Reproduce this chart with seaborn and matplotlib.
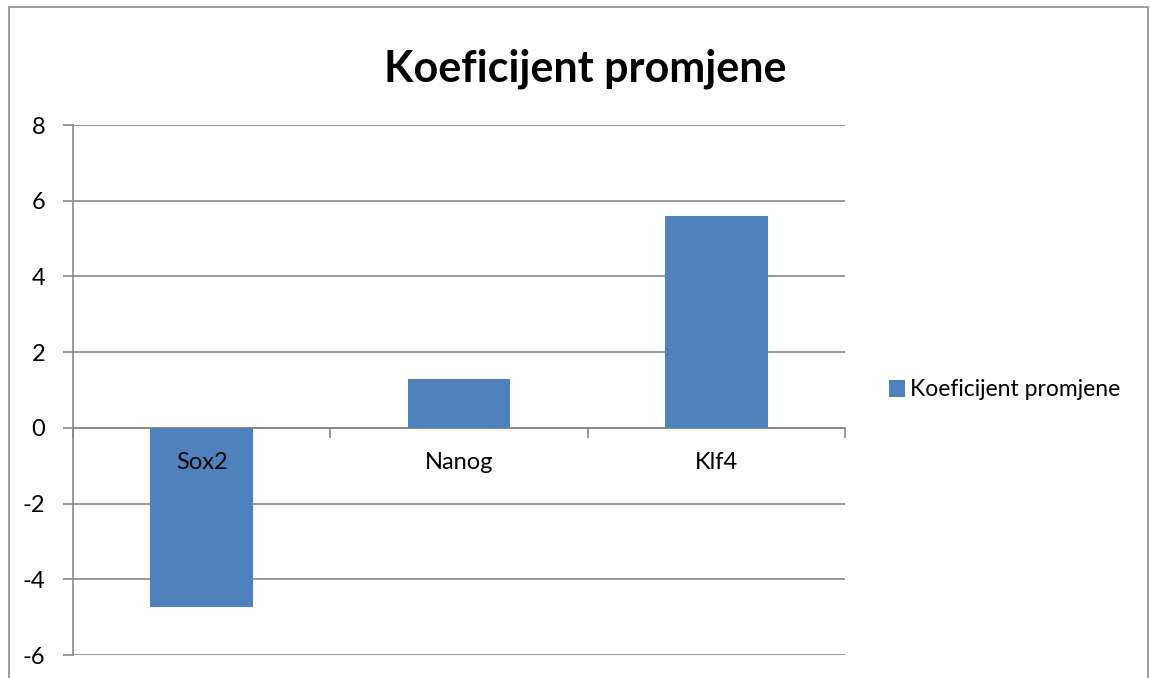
# Koeficijent promjene - bar chart (Excel style)

import matplotlib
matplotlib.use('Agg')
import matplotlib.pyplot as plt
import matplotlib.patches as mpatches
import seaborn as sns
import pandas as pd

# data
genes = ['Sox2', 'Nanog', 'Klf4']
fold_change = [-4.72, 1.28, 5.6]
series_name = 'Koeficijent promjene'
y_ticks = [-6, -4, -2, 0, 2, 4, 6, 8]

df = pd.DataFrame({'gene': genes, 'value': fold_change})

sns.set_style('white')
plt.rcParams['font.family'] = ['Lato', 'DejaVu Sans']
plt.rcParams['text.color'] = 'black'
plt.rcParams['ytick.labelcolor'] = 'black'

grid_col = '#888888'
bar_col = '#4f81bd'

fig = plt.figure(figsize=(11.5, 6.78), dpi=100)
ax = fig.add_axes([73 / 1150, 1 - 655 / 678, (845 - 73) / 1150, (655 - 125) / 678])

sns.barplot(data=df, x='gene', y='value', color=bar_col, width=0.4,
            label=series_name, ax=ax, saturation=1, linewidth=0, zorder=3)

ax.set_ylim(-6, 8)
ax.set_xlim(-0.5, 2.5)
ax.set_yticks(y_ticks)
ax.set_yticklabels([str(t) for t in y_ticks], fontsize=17, color='black')
ax.yaxis.grid(True, color=grid_col, linewidth=1.2, zorder=0)
ax.set_axisbelow(True)
ax.tick_params(axis='y', length=7, width=1.2, color=grid_col, pad=13, left=True)

# category axis crosses at zero, ticks between categories
ax.spines['bottom'].set_position(('data', 0))
ax.spines['bottom'].set_color(grid_col)
ax.spines['bottom'].set_linewidth(1.2)
ax.spines['left'].set_color(grid_col)
ax.spines['left'].set_linewidth(1.2)
ax.spines['top'].set_visible(False)
ax.spines['right'].set_visible(False)
ax.set_xticks([-0.5, 0.5, 1.5, 2.5])
ax.set_xticklabels([])
ax.tick_params(axis='x', which='major', length=7, width=1.2, color=grid_col, bottom=True, direction='out')
ax.set_xlabel('')
ax.set_ylabel('')

# category labels sit just under the zero line, on top of the bars
for i, g in enumerate(genes):
    ax.annotate(g, xy=(i, 0), xytext=(0, -25), textcoords='offset points',
                ha='center', va='center', fontsize=17, color='black', zorder=5)

fig.text(585 / 1150, 1 - 69 / 678, series_name, ha='center', va='center',
         fontsize=31, fontweight='bold', color='black')

leg = ax.legend(loc='center left', bbox_to_anchor=(868 / 1150, 1 - 390 / 678),
                bbox_transform=fig.transFigure, frameon=False, fontsize=16.5,
                handlelength=0.7, handleheight=0.7, handletextpad=0.25)

# outer chart frame
frame = mpatches.Rectangle((9 / 1150, -0.05), (1148 - 9) / 1150, 1.05 - 7 / 678,
                           transform=fig.transFigure, fill=False,
                           edgecolor='#8c8c8c', linewidth=1.2, clip_on=False)
fig.patches.append(frame)

fig.savefig('out.png', dpi=100)
